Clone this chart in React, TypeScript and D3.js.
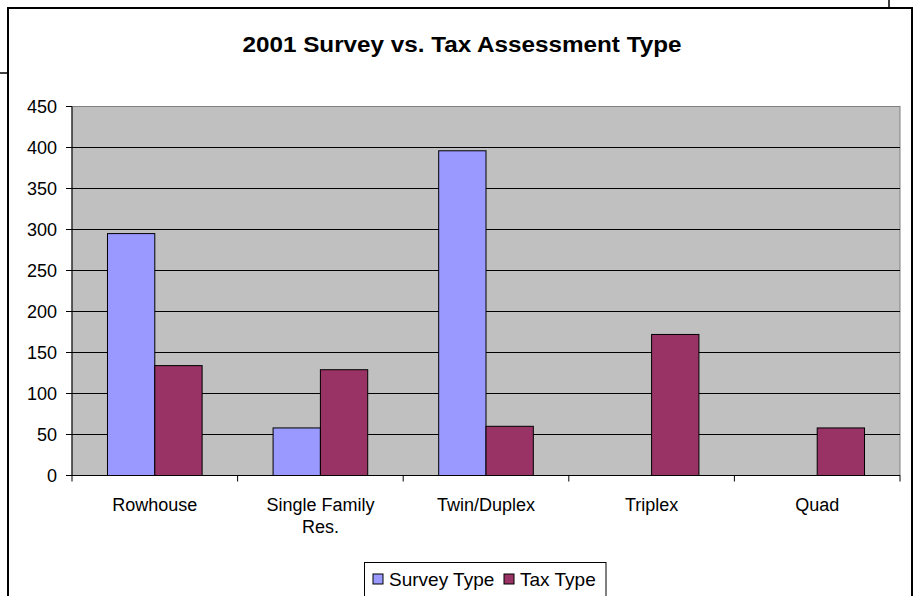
import React from "react";
import * as d3 from "d3";

const title = "2001 Survey vs. Tax Assessment Type";
const categories = ["Rowhouse", "Single Family Res.", "Twin/Duplex", "Triplex", "Quad"];
const categoryLines = [["Rowhouse"], ["Single Family", "Res."], ["Twin/Duplex"], ["Triplex"], ["Quad"]];
const seriesNames = ["Survey Type", "Tax Type"];
const surveyValues = [295, 58, 396, 0, 0];
const taxValues = [134, 129, 60, 172, 58];
const yTicks = [0, 50, 100, 150, 200, 250, 300, 350, 400, 450];
const colors = ["#9999FF", "#993366"];

const W = 915;
const H = 596;
const plot = { left: 72, right: 900, top: 106.5, bottom: 475.5 };
const font = "'Liberation Sans', Arial, sans-serif";

export default function App() {
  const y = d3.scaleLinear().domain([0, 450]).range([plot.bottom, plot.top]);
  const x = d3.scaleBand<string>().domain(categories).range([plot.left, plot.right]).padding(0);
  const cw = x.bandwidth();
  const barW = cw / 3.5;
  const inner = d3
    .scaleBand<string>()
    .domain(seriesNames)
    .range([(cw - 2 * barW) / 2, (cw + 2 * barW) / 2])
    .padding(0);
  const series = [surveyValues, taxValues];
  const boundaries = d3.range(categories.length + 1).map((i) => plot.left + i * cw);

  return (
    <svg
      width={W}
      height={H}
      style={{ position: "absolute", left: 0, top: 0, background: "#fff" }}
      fontFamily={font}
    >
      {/* stray document lines */}
      <line x1={0} x2={8} y1={73} y2={73} stroke="#000" strokeWidth={1.5} />
      <line x1={889} x2={889} y1={0} y2={8} stroke="#000" strokeWidth={1.5} />
      {/* outer frame */}
      <rect x={8} y={8} width={904} height={H + 20} fill="#fff" stroke="#000" strokeWidth={2} />

      <text
        x={462}
        y={52}
        textAnchor="middle"
        fontSize={22}
        fontWeight="bold"
        textLength={439}
        lengthAdjust="spacingAndGlyphs"
        fill="#000"
      >
        {title}
      </text>

      {/* plot area */}
      <rect
        x={plot.left}
        y={plot.top}
        width={plot.right - plot.left}
        height={plot.bottom - plot.top}
        fill="#C0C0C0"
        stroke="#808080"
        strokeWidth={1}
      />
      {yTicks
        .filter((t) => t > 0 && t < 450)
        .map((t) => (
          <line
            key={"g" + t}
            x1={plot.left}
            x2={plot.right}
            y1={y(t)}
            y2={y(t)}
            stroke="#000"
            strokeWidth={1}
          />
        ))}

      {/* bars */}
      {series.map((vals, si) =>
        vals.map((v, ci) =>
          v > 0 ? (
            <rect
              key={si + "-" + ci}
              x={(x(categories[ci]) as number) + (inner(seriesNames[si]) as number)}
              y={y(v)}
              width={inner.bandwidth()}
              height={y(0) - y(v)}
              fill={colors[si]}
              stroke="#000"
              strokeWidth={1}
            />
          ) : null
        )
      )}

      {/* y axis */}
      <line x1={plot.left} x2={plot.left} y1={plot.top} y2={plot.bottom} stroke="#000" strokeWidth={1} />
      {yTicks.map((t) => (
        <g key={"yt" + t}>
          <line x1={plot.left - 6} x2={plot.left} y1={y(t)} y2={y(t)} stroke="#000" strokeWidth={1} />
          <text x={57} y={y(t) + 6} textAnchor="end" fontSize={18} fill="#000">
            {t}
          </text>
        </g>
      ))}

      {/* x axis */}
      <line x1={plot.left} x2={plot.right} y1={plot.bottom} y2={plot.bottom} stroke="#000" strokeWidth={1} />
      {boundaries.map((bx, i) => (
        <line key={"xt" + i} x1={bx} x2={bx} y1={plot.bottom} y2={plot.bottom + 6} stroke="#000" strokeWidth={1} />
      ))}
      {categories.map((c, i) => (
        <text key={"xl" + c} textAnchor="middle" fontSize={18} fill="#000">
          {categoryLines[i].map((ln, li) => (
            <tspan key={li} x={(x(c) as number) + cw / 2} y={511 + li * 22}>
              {ln}
            </tspan>
          ))}
        </text>
      ))}

      {/* legend */}
      <rect x={364.5} y={562.5} width={241.5} height={60} fill="#fff" stroke="#000" strokeWidth={1} />
      {seriesNames.map((s, i) => {
        const lx = i === 0 ? 373 : 504;
        return (
          <g key={"lg" + s}>
            <rect x={lx} y={574} width={10} height={10} fill={colors[i]} stroke="#000" strokeWidth={1} />
            <text x={lx + 16} y={586} fontSize={19} fill="#000">
              {s}
            </text>
          </g>
        );
      })}
    </svg>
  );
}
